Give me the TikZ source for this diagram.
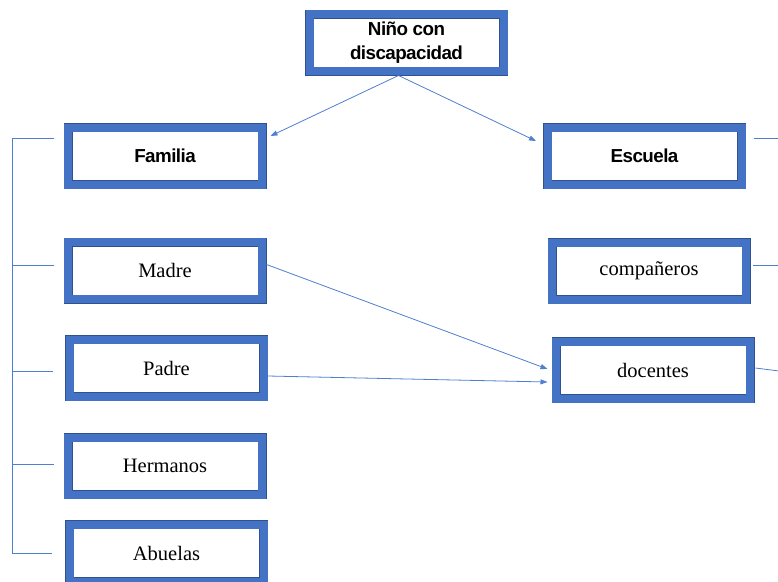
\documentclass[tikz,border=0pt]{standalone}
\usepackage{fontspec}
\setmainfont{Liberation Serif}
\newfontfamily\hdfont[LetterSpace=-3]{Liberation Sans}
\usetikzlibrary{arrows.meta,calc}
\definecolor{boxblue}{HTML}{4472C4}
\definecolor{edgeblue}{HTML}{2F528F}
\definecolor{lineblue}{HTML}{4F7FD0}
\tikzset{
  box/.style={draw=edgeblue, double=boxblue, line width=0.5pt, double distance=8pt,
    fill=white, inner sep=0pt, outer sep=4.5pt, minimum width=194pt, minimum height=57pt,
    font=\fontsize{20.5}{23}\selectfont, text=black},
  headbox/.style={box, font=\hdfont\bfseries\fontsize{18.8}{24.5}\selectfont, align=center},
  conn/.style={draw=lineblue, line width=0.8pt},
  arr/.style={conn, -{Triangle[length=7pt,width=5pt]}}
}
\begin{document}
\begin{tikzpicture}[x=1pt,y=-1pt]
\useasboundingbox (0,0) rectangle (778,581);
\node[headbox] (top) at (406.5,42.5) {Niño con\\discapacidad};
\node[headbox] (fam) at (165,156) {Familia};
\node[box] (madre) at (165,270.5) {Madre};
\node[box] (padre) at (166.5,368) {Padre};
\node[box] (herm) at (165,466) {Hermanos};
\node[box] (abu) at (166.5,553) {Abuelas};
\node[headbox] (esc) at (644.5,156) {Escuela};
\node[box] (comp) at (649,271) {compañeros};
\node[box] (doc) at (653,370) {docentes};
% arrows
\draw[arr] ($(top.south)+(-8,0)$) -- ($(fam.east)+(4,-20)$);
\draw[arr] ($(top.south)+(-8,0)$) -- ($(esc.west)+(-7,-15)$);
\draw[arr] ($(madre.east)+(0,-6)$) -- ($(doc.west)+(-4,-1)$);
\draw[arr] ($(padre.east)+(0,8)$) -- ($(doc.west)+(-4,12)$);
% left bracket
\coordinate (bt) at (12,138);
\coordinate (bb) at (12,553);
\draw[conn] ($(fam.west)+(-10,-18)$) -- (bt) -- (bb) -- ($(abu.west)+(-13,0)$);
\draw[conn] ($(madre.west)+(-10,-5.5)$) -- (12,265);
\draw[conn] ($(padre.west)+(-12,3)$) -- (12,371);
\draw[conn] ($(herm.west)+(-10,-2)$) -- (12,464);
% right stubs
\coordinate (r1) at (779,138);
\coordinate (r2) at (779,265);
\coordinate (r3) at (779,371);
\draw[conn] ($(esc.east)+(8,-18)$) -- (r1);
\draw[conn] ($(comp.east)+(2,-6)$) -- (r2);
\draw[conn] ($(doc.east)+(1,-2)$) -- (r3);
\end{tikzpicture}
\end{document}
